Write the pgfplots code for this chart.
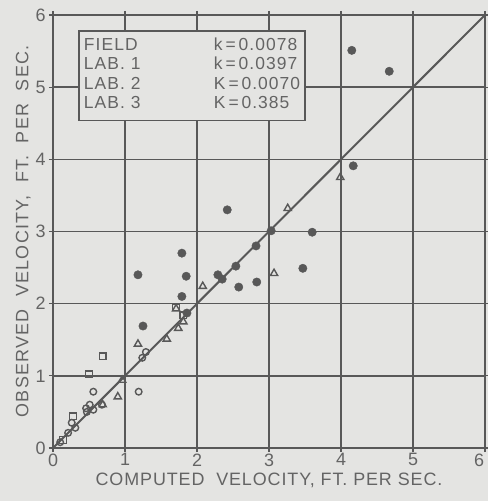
\documentclass[border=0pt]{standalone}
\usepackage{fontspec}
\setmainfont{Liberation Sans}
\usepackage{pgfplots}
\pgfplotsset{compat=1.18}
\definecolor{bg}{RGB}{228,228,226}
\definecolor{ink}{RGB}{88,88,88}
\definecolor{txt}{RGB}{100,100,100}
\begin{document}
\begin{tikzpicture}
\fill[bg] (-53bp,-53bp) rectangle (435bp,448bp);
\begin{axis}[
  at={(0,0)}, anchor=south west,
  scale only axis, width=432bp, height=433bp,
  xmin=0, xmax=6, ymin=0, ymax=6,
  xtick={0,...,6}, ytick={0,...,6},
  xticklabels={0,1,2,3,4,5,\makebox[0pt][r]{6\hspace{1bp}}},
  grid=major,
  grid style={ink, line width=1.4bp},
  axis line style={ink, line width=1.8bp},
  tick style={ink, line width=1.2bp},
  tick align=outside, major tick length=4bp,
  /pgf/number format/assume math mode=true,
  ticklabel style={font=\fontsize{18}{20}\selectfont, text=txt},
  xticklabel style={yshift=2bp},
  xlabel={\addfontfeatures{LetterSpace=5}COMPUTED\ \ VELOCITY,\ FT.\ PER\ SEC.},
  ylabel={\addfontfeatures{LetterSpace=7}OBSERVED\ \ VELOCITY,\ \ FT.\ \ PER\ \ SEC.},
  label style={font=\fontsize{18}{20}\selectfont, text=txt},
  xlabel style={yshift=0bp},
  ylabel style={yshift=-2bp},
  clip=false,
]
\addplot[ink, line width=2bp] coordinates {(0,0) (6,6)};
% Field: filled circles
\addplot[only marks, mark=*, mark size=4.2bp, ink, mark options={fill=ink}] coordinates {
(4.15,5.51) (4.67,5.22) (4.17,3.91) (3.60,2.99) (3.47,2.49) (2.42,3.30)
(1.79,2.70) (1.85,2.38) (1.79,2.10) (2.29,2.40) (2.58,2.23) (2.83,2.30)
(2.54,2.52) (2.82,2.80) (3.03,3.01) (1.86,1.87) (1.18,2.40) (1.25,1.69)
(2.35,2.34)
};
% Lab 1: open circles
\addplot[only marks, mark=o, mark size=3.3bp, ink, mark options={line width=1.4bp}] coordinates {
(1.19,0.78) (1.24,1.25) (1.29,1.33) (0.56,0.78) (0.51,0.60) (0.56,0.53)
(0.68,0.60) (0.47,0.50) (0.26,0.35) (0.31,0.28) (0.21,0.21) (0.10,0.08)
(0.46,0.55)
};
% Lab 2: triangles
\addplot[only marks, mark=triangle, mark size=4.2bp, ink, mark options={line width=1.4bp}] coordinates {
(3.99,3.75) (3.26,3.32) (3.07,2.42) (2.08,2.24) (1.71,1.93) (1.81,1.75)
(1.58,1.51) (1.74,1.66) (1.18,1.44) (0.96,0.94) (0.90,0.71) (0.69,0.60)
};
% Lab 3: squares
\addplot[only marks, mark=square, mark size=3.4bp, ink, mark options={line width=1.4bp}] coordinates {
(0.69,1.27) (0.50,1.02) (1.71,1.95) (1.81,1.84) (0.28,0.44) (0.14,0.11)
};
\node[draw=ink, line width=1.6bp, fill=bg, anchor=north west, inner xsep=5bp, inner ysep=6bp,
      text=txt, font=\fontsize{17.5}{19.5}\selectfont\addfontfeatures{LetterSpace=6}]
  at (axis cs:0.35,5.79) {%
  \begin{tabular}{@{}p{130bp}@{}l@{}}
  FIELD & k\,=\,0.0078\\
  LAB. 1 & k\,=\,0.0397\\
  LAB. 2 & K\,=\,0.0070\\
  LAB. 3 & K\,=\,0.385
  \end{tabular}};
\end{axis}
\pgfresetboundingbox
\path (-53bp,-53bp) rectangle (435bp,448bp);
\end{tikzpicture}
\end{document}
